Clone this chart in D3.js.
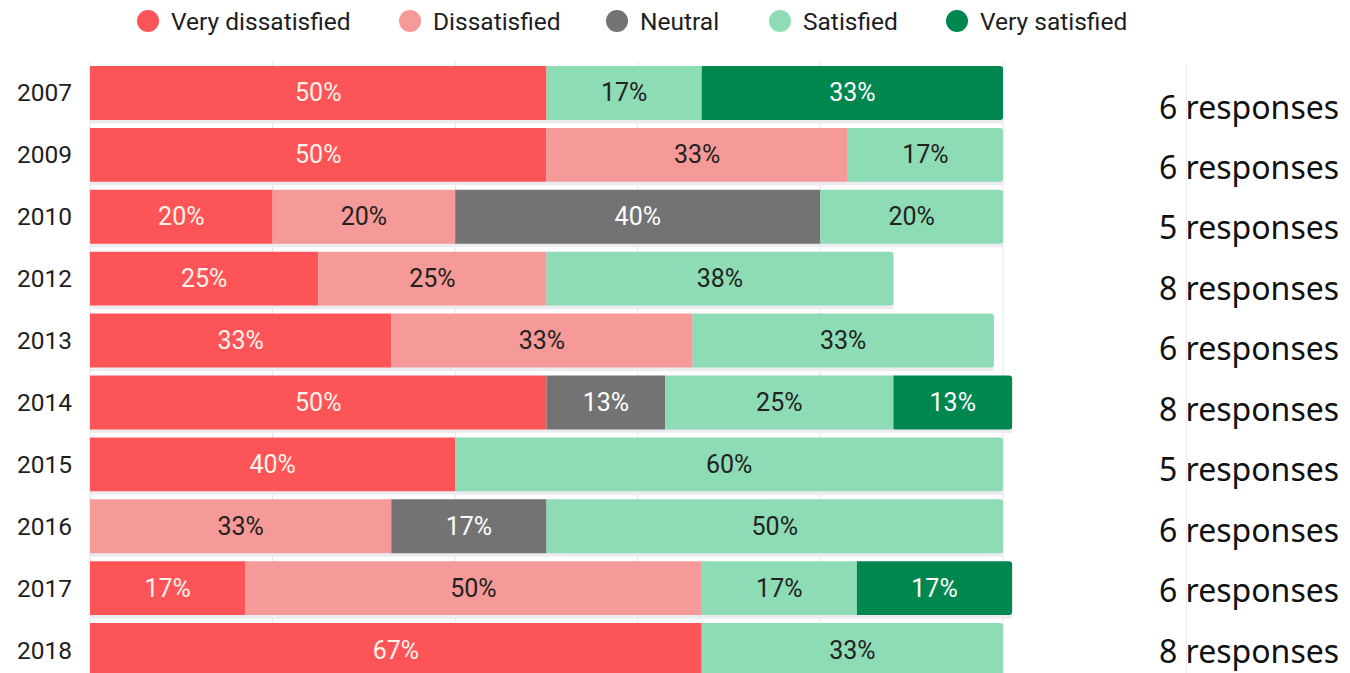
<!DOCTYPE html>
<html>
<head>
<meta charset="utf-8">
<script src="https://cdn.jsdelivr.net/npm/d3@7"></script>
<style>
  html, body { margin: 0; padding: 0; background: #ffffff; }
  svg { display: block; }
</style>
</head>
<body>
<svg id="chart" width="1350" height="673"></svg>
<script>
// Survey years (one bar per year)
const years = ["2007", "2009", "2010", "2012", "2013", "2014", "2015", "2016", "2017", "2018"];

// Satisfaction levels, in stacking order
const levels = ["Very dissatisfied", "Dissatisfied", "Neutral", "Satisfied", "Very satisfied"];

// Share of responses (%) for each level, per year
const veryDissatisfied = [50, 50, 20, 25, 33, 50, 40, 0, 17, 67];
const dissatisfied     = [0, 33, 20, 25, 33, 0, 0, 33, 50, 0];
const neutral          = [0, 0, 40, 0, 0, 13, 0, 17, 0, 0];
const satisfied        = [17, 17, 20, 38, 33, 25, 60, 50, 17, 33];
const verySatisfied    = [33, 0, 0, 0, 0, 13, 0, 0, 17, 0];

// Number of responses per year
const responses = [6, 6, 5, 8, 6, 8, 5, 6, 6, 8];

// Gridline ticks (%)
const gridTicks = [0, 20, 40, 60, 80, 100];

const colors = ["#fd5457", "#f59a98", "#737373", "#8ddcb6", "#00874f"];
const labelColors = ["#fff3ec", "#222222", "#ffffff", "#222222", "#ffffff"];

const table = years.map((y, i) => ({
  year: y,
  "Very dissatisfied": veryDissatisfied[i],
  "Dissatisfied": dissatisfied[i],
  "Neutral": neutral[i],
  "Satisfied": satisfied[i],
  "Very satisfied": verySatisfied[i],
  responses: responses[i]
}));

const svg = d3.select("#chart");

const x = d3.scaleLinear().domain([0, 100]).range([90, 1003]);
const y = d3.scaleBand().domain(years).range([62, 681]).paddingInner(0.13).paddingOuter(0.065);

const stack = d3.stack().keys(levels);
const series = stack(table);

// Gridlines
const plotTop = 62;
svg.append("g")
  .selectAll("line")
  .data(gridTicks)
  .join("line")
  .attr("x1", d => x(d)).attr("x2", d => x(d))
  .attr("y1", plotTop).attr("y2", 673)
  .attr("stroke", "#e3e3e6")
  .attr("stroke-width", 1);

// Divider on the right, between counts and the word "responses"
svg.append("line")
  .attr("x1", 1186.5).attr("x2", 1186.5)
  .attr("y1", 64).attr("y2", 673)
  .attr("stroke", "#ececee")
  .attr("stroke-width", 1);

// Faint under-bar strip
svg.append("g")
  .selectAll("rect")
  .data(table)
  .join("rect")
  .attr("x", x(0))
  .attr("y", d => y(d.year) + 2)
  .attr("width", d => x(d3.sum(levels, k => d[k])) - x(0))
  .attr("height", y.bandwidth() + 1.5)
  .attr("fill", "#ececf0");

// Bar segments; the last segment in each row gets slightly rounded right corners
const lastKey = d => {
  let k = null;
  levels.forEach(l => { if (d[l] > 0) k = l; });
  return k;
};

function segPath(x0, x1, y0, h, rounded) {
  const r = rounded ? 3 : 0;
  return `M${x0},${y0}H${x1 - r}` +
    (r ? `Q${x1},${y0} ${x1},${y0 + r}` : "") +
    `V${y0 + h - r}` +
    (r ? `Q${x1},${y0 + h} ${x1 - r},${y0 + h}` : "") +
    `H${x0}Z`;
}

series.forEach((s, si) => {
  const g = svg.append("g");
  const segs = s.filter(d => d[1] - d[0] > 0);
  g.selectAll("path")
    .data(segs)
    .join("path")
    .attr("d", d => segPath(x(d[0]), x(d[1]), y(d.data.year), y.bandwidth(), lastKey(d.data) === s.key))
    .attr("fill", colors[si]);

  g.selectAll("text")
    .data(segs)
    .join("text")
    .attr("x", d => (x(d[0]) + x(d[1])) / 2)
    .attr("y", d => y(d.data.year) + y.bandwidth() / 2)
    .attr("text-anchor", "middle")
    .attr("dominant-baseline", "central")
    .attr("font-family", "Roboto, 'Noto Sans', sans-serif")
    .attr("font-size", 25)
    .attr("fill", labelColors[si])
    .text(d => `${d[1] - d[0]}%`);
});

// Year labels
svg.append("g")
  .selectAll("text")
  .data(years)
  .join("text")
  .attr("x", 72)
  .attr("y", d => y(d) + y.bandwidth() / 2)
  .attr("text-anchor", "end")
  .attr("dominant-baseline", "central")
  .attr("font-family", "Roboto, 'Noto Sans', sans-serif")
  .attr("font-size", 24.5)
  .attr("fill", "#1e1e1e")
  .text(d => d);

// Response counts
const yResp = d3.scalePoint().domain(years).range([106, 650]);
svg.append("g")
  .selectAll("text")
  .data(table)
  .join("text")
  .attr("x", 1159)
  .attr("y", d => yResp(d.year))
  .attr("dominant-baseline", "central")
  .attr("font-family", "'Noto Sans', 'Open Sans', sans-serif")
  .attr("font-size", 32)
  .attr("fill", "#111111")
  .text(d => `${d.responses} responses`);

// Legend
const legendX = [148, 410, 617, 780, 957];
const legend = svg.append("g")
  .selectAll("g")
  .data(levels)
  .join("g")
  .attr("transform", (d, i) => `translate(${legendX[i]},21)`);
legend.append("circle")
  .attr("r", 11)
  .attr("fill", (d, i) => colors[i]);
legend.append("text")
  .attr("x", 23)
  .attr("dominant-baseline", "central")
  .attr("font-family", "Roboto, 'Noto Sans', sans-serif")
  .attr("font-size", 24.5)
  .attr("fill", "#1e1e1e")
  .text(d => d);
</script>
</body>
</html>
